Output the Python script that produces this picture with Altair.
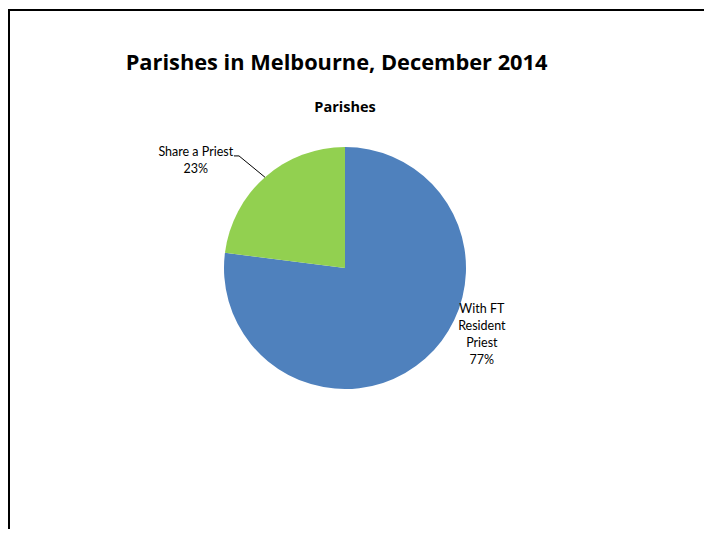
import math
import altair as alt
import pandas as pd

# ---- data ----
categories = ["With FT Resident Priest", "Share a Priest"]
label_lines = [["With FT", "Resident", "Priest"], ["Share a Priest"]]
shares = [77, 23]
colors = ["#4F81BD", "#92D050"]
title_text = "Parishes in Melbourne, December 2014"
subtitle_text = "Parishes"

# ---- layout ----
W, H = 696, 521
CX, CY, R = 337, 260, 121
LABEL_FONT = "Lato"
TITLE_FONT = "Open Sans"
LH = 17

df = pd.DataFrame({
    "category": categories,
    "share": shares,
    "order": list(range(len(categories))),
    "label": ["\n".join(l + [f"{s}%"]) for l, s in zip(label_lines, shares)],
})

base = alt.Chart(df).encode(
    theta=alt.Theta("share:Q", stack=True),
    order=alt.Order("order:Q", sort="ascending"),
)

pie = base.mark_arc(radius=R, stroke=None).encode(
    x=alt.value(CX), y=alt.value(CY),
    color=alt.Color("category:N", scale=alt.Scale(domain=categories, range=colors), legend=None),
)

def label_layer(i, r, dx, dy):
    n_lines = len(label_lines[i]) + 1
    return base.mark_text(
        radius=r, dx=dx, dy=dy - (n_lines - 1) * LH / 2, font=LABEL_FONT, fontSize=12.5,
        lineBreak="\n", lineHeight=LH, align="center", baseline="middle", color="#000000",
    ).encode(
        x=alt.value(CX), y=alt.value(CY),
        text=alt.condition(alt.datum.category == categories[i], "label:N", alt.value("")),
    )

blue_label = label_layer(0, 148, 39, -45)
green_label = label_layer(1, 150, -50, 5)

# leader line for the small slice, derived from its mid-angle
total = sum(shares)
mid = (shares[0] + shares[1] / 2) / total * 2 * math.pi
def polar(a, r):
    return CX + r * math.sin(a), CY - r * math.cos(a)
edge = polar(mid, R)
elbow = polar(mid - math.radians(2), 1.275 * R)
tail = (elbow[0] - 5, elbow[1])
leader_df = pd.DataFrame({
    "x": [edge[0], elbow[0]], "y": [edge[1], elbow[1]],
    "x2": [elbow[0], tail[0]], "y2": [elbow[1], tail[1]],
})
leader = alt.Chart(leader_df).mark_rule(color="#000000", strokeWidth=1).encode(
    x=alt.X("x:Q", scale=None), y=alt.Y("y:Q", scale=None),
    x2="x2:Q", y2="y2:Q",
)

one = pd.DataFrame({"t": [title_text], "s": [subtitle_text]})
title = alt.Chart(one).mark_text(
    font=TITLE_FONT, fontSize=21.8, fontWeight="bold", align="center", baseline="alphabetic", color="#000000"
).encode(text="t:N", x=alt.value(328.6), y=alt.value(61.5))
subtitle = alt.Chart(one).mark_text(
    font=TITLE_FONT, fontSize=14.5, fontWeight="bold", align="center", baseline="alphabetic", color="#000000"
).encode(text="s:N", x=alt.value(337), y=alt.value(103.7))

# chart frame: only its top and left edges fall inside the visible page
frame = alt.Chart(one).mark_rect(fill=None, stroke="#000000", strokeWidth=2).encode(
    x=alt.value(1), y=alt.value(2), x2=alt.value(W + 60), y2=alt.value(H + 60)
)

chart = alt.layer(
    frame, pie, leader, blue_label, green_label, title, subtitle
).properties(
    width=W, height=H, padding=0, autosize=alt.AutoSizeParams(type="none"),
    background="#ffffff",
).configure_view(stroke=None)

chart.save("out.html", embed_options={"renderer": "svg", "actions": False})
